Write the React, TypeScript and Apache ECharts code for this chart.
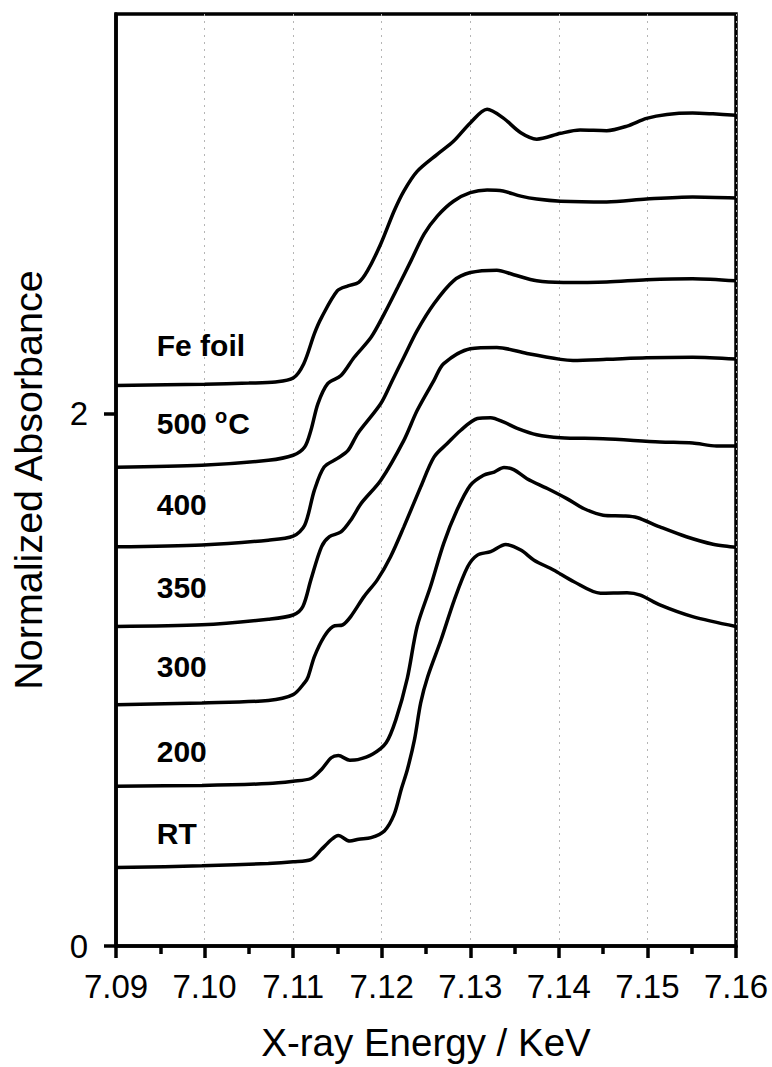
import React, { useEffect, useRef } from "react";
import * as echarts from "echarts";

// ---- data (energy in keV, normalized absorbance incl. vertical offset) ----
const feFoil: [number, number][] = [
  [7.09, 2.105], [7.1, 2.11], [7.105, 2.114], [7.108, 2.118], [7.11, 2.133],
  [7.1112, 2.187], [7.1124, 2.3], [7.1132, 2.36], [7.115, 2.461], [7.1162, 2.479],
  [7.1174, 2.492], [7.1184, 2.536], [7.1199, 2.637], [7.1214, 2.76], [7.1225, 2.835],
  [7.124, 2.909], [7.1263, 2.974], [7.1281, 3.022], [7.13, 3.091], [7.1319, 3.142],
  [7.1337, 3.11], [7.1357, 3.054], [7.1375, 3.03], [7.1402, 3.052], [7.1424, 3.064],
  [7.1454, 3.062], [7.1477, 3.079], [7.1499, 3.108], [7.1522, 3.123], [7.1551, 3.128],
  [7.1574, 3.125], [7.16, 3.12],
];
const t500: [number, number][] = [
  [7.09, 1.798], [7.0997, 1.805], [7.1072, 1.824], [7.11, 1.843], [7.1113, 1.874],
  [7.112, 1.936], [7.1128, 2.037], [7.1139, 2.112], [7.1154, 2.142], [7.1169, 2.211],
  [7.1188, 2.286], [7.1203, 2.375], [7.1218, 2.473], [7.1233, 2.573], [7.1248, 2.674],
  [7.1263, 2.742], [7.1281, 2.797], [7.13, 2.829], [7.1319, 2.839], [7.1337, 2.835],
  [7.1357, 2.816], [7.1375, 2.805], [7.1402, 2.797], [7.1454, 2.794], [7.1499, 2.805],
  [7.1551, 2.813], [7.16, 2.809],
];
const t400: [number, number][] = [
  [7.09, 1.499], [7.0997, 1.506], [7.1072, 1.524], [7.11, 1.539], [7.1113, 1.58],
  [7.1124, 1.712], [7.1135, 1.799], [7.115, 1.831], [7.1162, 1.861], [7.1173, 1.925],
  [7.1199, 2.037], [7.1212, 2.124], [7.1225, 2.211], [7.124, 2.311], [7.1259, 2.412],
  [7.1281, 2.498], [7.13, 2.529], [7.133, 2.538], [7.1349, 2.521], [7.1375, 2.498],
  [7.1405, 2.492], [7.1454, 2.494], [7.1499, 2.502], [7.1551, 2.506], [7.16, 2.498],
];
const t350: [number, number][] = [
  [7.09, 1.2], [7.0997, 1.206], [7.1072, 1.227], [7.11, 1.243], [7.1111, 1.275],
  [7.112, 1.375], [7.1132, 1.499], [7.1141, 1.537], [7.1154, 1.555], [7.1165, 1.599],
  [7.1177, 1.663], [7.1199, 1.749], [7.1225, 1.899], [7.124, 2.011], [7.1259, 2.124],
  [7.127, 2.187], [7.13, 2.243], [7.133, 2.248], [7.1364, 2.225], [7.1402, 2.203],
  [7.1416, 2.199], [7.1454, 2.203], [7.1499, 2.209], [7.1551, 2.211], [7.16, 2.204],
];
const t300: [number, number][] = [
  [7.09, 0.906], [7.0997, 0.913], [7.1072, 0.922], [7.11, 0.944], [7.1113, 0.989],
  [7.1117, 1.012], [7.1124, 1.087], [7.1135, 1.162], [7.1145, 1.2], [7.1156, 1.206],
  [7.1165, 1.237], [7.118, 1.312], [7.1195, 1.375], [7.121, 1.462], [7.1225, 1.574],
  [7.1244, 1.724], [7.1259, 1.836], [7.1274, 1.887], [7.1289, 1.936], [7.1308, 1.981],
  [7.1323, 1.984], [7.1338, 1.967], [7.1353, 1.944], [7.1375, 1.92], [7.1402, 1.909],
  [7.145, 1.905], [7.1514, 1.893], [7.1551, 1.889], [7.1578, 1.878], [7.16, 1.878],
];
const t200: [number, number][] = [
  [7.09, 0.6], [7.0997, 0.603], [7.1072, 0.61], [7.11, 0.619], [7.112, 0.629],
  [7.1132, 0.663], [7.1143, 0.707], [7.1151, 0.715], [7.1164, 0.698], [7.1173, 0.7],
  [7.119, 0.721], [7.1205, 0.763], [7.1216, 0.85], [7.1229, 1.007], [7.124, 1.2],
  [7.1255, 1.349], [7.127, 1.512], [7.1285, 1.637], [7.13, 1.73], [7.1315, 1.768],
  [7.1327, 1.78], [7.1338, 1.797], [7.1349, 1.789], [7.1364, 1.755], [7.1387, 1.718],
  [7.1409, 1.68], [7.1428, 1.643], [7.145, 1.618], [7.1473, 1.615], [7.1488, 1.609],
  [7.1514, 1.574], [7.1544, 1.537], [7.1574, 1.509], [7.16, 1.497],
];
const tRT: [number, number][] = [
  [7.09, 0.295], [7.0997, 0.301], [7.1072, 0.31], [7.11, 0.316], [7.112, 0.324],
  [7.1132, 0.363], [7.1143, 0.399], [7.1151, 0.415], [7.1164, 0.394], [7.1174, 0.401],
  [7.1188, 0.407], [7.1203, 0.432], [7.1214, 0.494], [7.1222, 0.588], [7.1229, 0.663],
  [7.1237, 0.775], [7.1244, 0.913], [7.1252, 1.012], [7.1267, 1.15], [7.1282, 1.3],
  [7.1297, 1.424], [7.1308, 1.468], [7.1323, 1.481], [7.134, 1.508], [7.1357, 1.487],
  [7.1372, 1.449], [7.1394, 1.412], [7.1417, 1.368], [7.1447, 1.325], [7.1477, 1.327],
  [7.1492, 1.318], [7.1514, 1.281], [7.1551, 1.237], [7.16, 1.2],
];

const curves = [
  { name: "Fe foil", data: feFoil },
  { name: "500 °C", data: t500 },
  { name: "400", data: t400 },
  { name: "350", data: t350 },
  { name: "300", data: t300 },
  { name: "200", data: t200 },
  { name: "RT", data: tRT },
];

// curve annotation anchors (energy, absorbance)
const labelTexts = ["Fe foil", "500 °C", "400", "350", "300", "200", "RT"];
const labelEnergy = [7.0946, 7.0946, 7.0946, 7.0946, 7.0946, 7.0946, 7.0946];
const labelAbs = [2.255, 1.964, 1.659, 1.348, 1.049, 0.73, 0.423];

const xMin = 7.09;
const xMax = 7.16;
const xStep = 0.01;
const yMin = 0;
const yMax = 3.5;
const yTickValues = [0, 2];

const FONT = "'Liberation Sans', Arial, Helvetica, sans-serif";

export default function App() {
  const ref = useRef<HTMLDivElement>(null);
  useEffect(() => {
    if (!ref.current) return;
    const chart = echarts.init(ref.current, undefined, { renderer: "svg" });
    const lineSeries = curves.map((c) => ({
      type: "line",
      name: c.name,
      data: c.data,
      showSymbol: false,
      symbol: "none",
      smooth: 0.3,
      lineStyle: { color: "#000", width: 3.5 },
      z: 3,
    }));
    const labelSeries = {
      type: "scatter",
      symbolSize: 0,
      silent: true,
      itemStyle: { opacity: 1, color: "#000" },
      data: labelTexts.map((t, i) => ({ value: [labelEnergy[i], labelAbs[i]], name: t })),
      label: {
        show: true,
        position: "right",
        distance: 0,
        opacity: 1,
        color: "#000",
        fontFamily: FONT,
        fontWeight: "bold",
        fontSize: 30,
        formatter: (p: any) => {
          const n: string = p.name;
          if (n.includes("°")) {
            const parts = n.split("°");
            return `{n|${parts[0]}}{s|o}{n|${parts[1]}}`;
          }
          return `{n|${n}}`;
        },
        rich: {
          n: { fontFamily: FONT, fontWeight: "bold", fontSize: 30, color: "#000" },
          s: { fontFamily: FONT, fontWeight: "bold", fontSize: 20, color: "#000", verticalAlign: "top", padding: [0, 1, 14, 0] },
        },
      },
      z: 5,
    };
    chart.setOption({
      animation: false,
      backgroundColor: "#fff",
      grid: {
        left: 114,
        right: 36,
        top: 14,
        bottom: 120,
        show: true,
        borderColor: "#000",
        borderWidth: 3.5,
        backgroundColor: "transparent",
        containLabel: false,
      },
      xAxis: {
        type: "value",
        min: xMin,
        max: xMax,
        interval: xStep,
        axisLine: { show: true, onZero: false, lineStyle: { color: "#000", width: 3.5 } },
        axisTick: { show: true, inside: false, length: 12, lineStyle: { color: "#000", width: 3.5 } },
        minorTick: { show: true, splitNumber: 2, length: 8, lineStyle: { color: "#000", width: 3.5 } },
        axisLabel: {
          formatter: (v: number) => v.toFixed(2),
          fontSize: 33,
          fontFamily: FONT,
          color: "#000",
          margin: 24,
        },
        splitLine: { show: true, lineStyle: { color: "#b5b5b5", width: 1, type: [2, 5] } },
        name: "X-ray Energy / KeV",
        nameLocation: "middle",
        nameGap: 77,
        nameTextStyle: { fontSize: 38.5, fontFamily: FONT, color: "#000" },
      },
      yAxis: {
        type: "value",
        min: yMin,
        max: yMax,
        interval: 2,
        axisLine: { show: true, onZero: false, lineStyle: { color: "#000", width: 3.5 } },
        axisTick: { show: true, inside: false, length: 12, customValues: yTickValues, lineStyle: { color: "#000", width: 3.5 } },
        axisLabel: {
          customValues: yTickValues,
          fontSize: 33,
          fontFamily: FONT,
          color: "#000",
          margin: 28,
        },
        splitLine: { show: false },
        name: "Normalized Absorbance",
        nameLocation: "middle",
        nameGap: 68,
        nameRotate: 90,
        nameTextStyle: { fontSize: 39.5, fontFamily: FONT, color: "#000" },
      },
      series: [...lineSeries, labelSeries],
    });
    return () => chart.dispose();
  }, []);
  return (
    <div
      ref={ref}
      style={{ position: "fixed", left: 0, top: 0, width: 772, height: 1067, background: "#fff" }}
    />
  );
}
